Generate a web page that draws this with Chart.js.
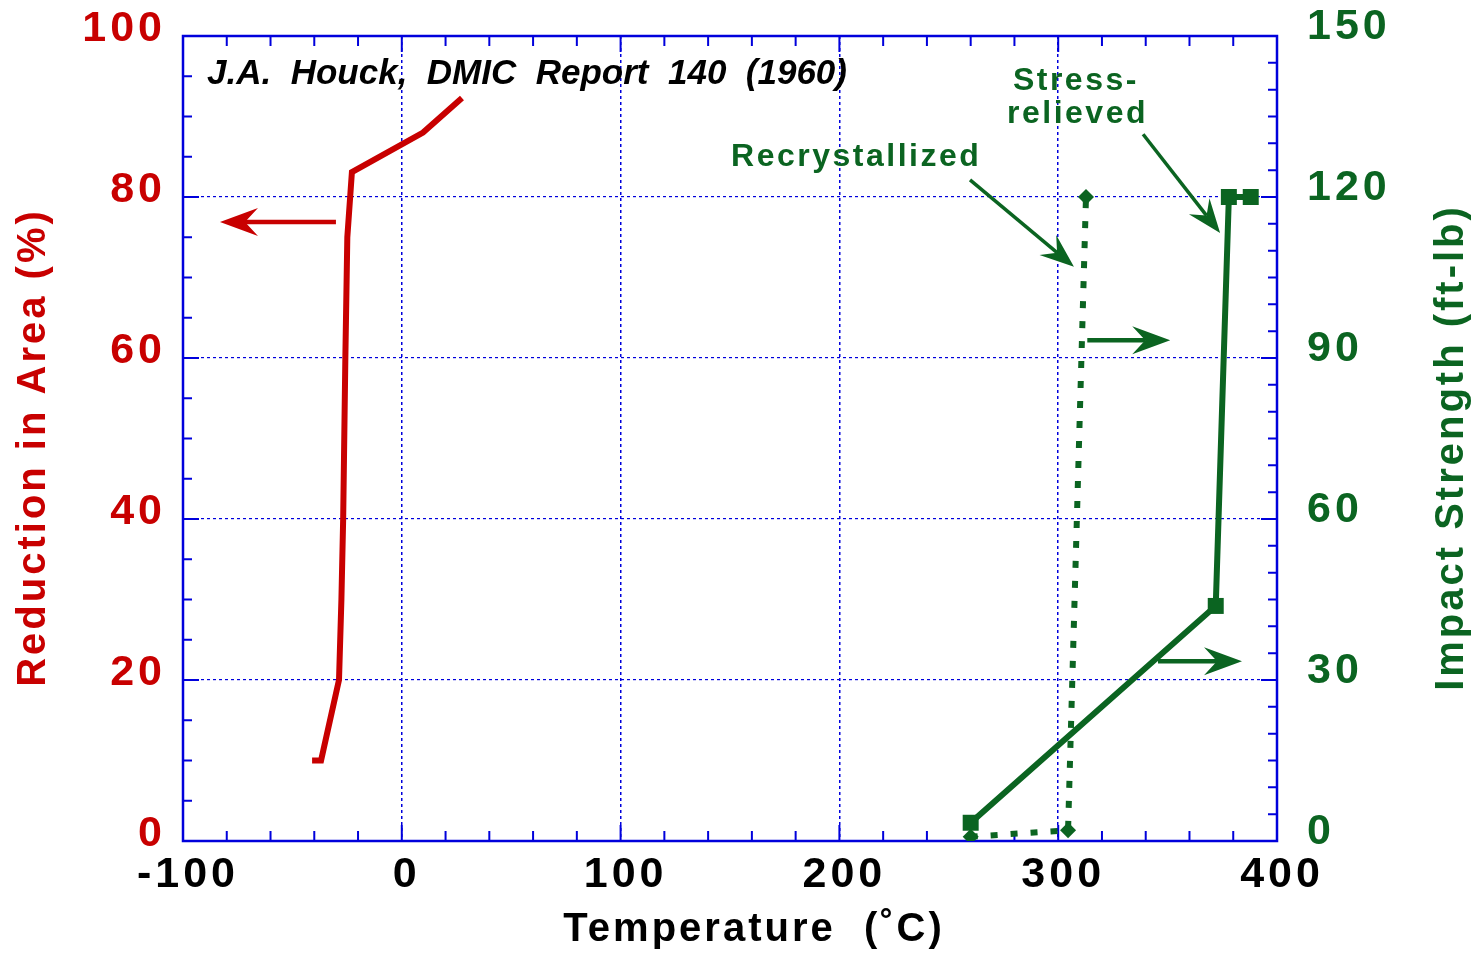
<!DOCTYPE html>
<html>
<head>
<meta charset="utf-8">
<script src="https://cdn.jsdelivr.net/npm/chart.js@4.4.1/dist/chart.umd.min.js"></script>
<style>
    html, body { margin: 0; padding: 0; background: #fff; }
    #wrap { width: 1480px; height: 953px; }
</style>
</head>
<body>
<div id="wrap"><canvas id="chart" width="1480" height="953"></canvas></div>
<script>
// Reduction in area (left axis, %)
const raTemp  = [-41, -36.9, -28.7, -27.6, -26.8, -25.8, -24.9, -22.8, 9.7, 27.5];
const raValue = [10, 10, 20, 30, 40, 60, 75, 83.1, 88, 92.3];

// Impact strength, stress-relieved (right axis, ft-lb)
const srTemp   = [260, 372, 378, 388];
const srImpact = [3.4, 43.8, 120, 120];

// Impact strength, recrystallized (right axis, ft-lb)
const rxTemp   = [260, 304.5, 312.7];
const rxImpact = [0.8, 2, 120];

// tick labels
const tempTicks   = [-100, 0, 100, 200, 300, 400];
const areaTicks   = [0, 20, 40, 60, 80, 100];
const impactTicks = [0, 30, 60, 90, 120, 150];

const RED = "#c80000";
const GREEN = "#0b6421";
const BLUE = "#0000dc";
const FONT = "'Liberation Sans', Arial, Helvetica, sans-serif";

function pts(xs, ys) {
    return xs.map((x, i) => ({ x: x, y: ys[i] }));
}

/* ---------------------------
   ANNOTATIONS (data coords)
---------------------------- */
const notes = [
    { text: "J.A.  Houck,  DMIC  Report  140  (1960)", x: -89, y: 94, axis: "yL",
      color: "#000", font: "italic bold 35px " + FONT, spacing: "0px" },
    { text: "Recrystallized", x: 150.5, y: 125.8, axis: "yR",
      color: GREEN, font: "bold 32px " + FONT, spacing: "2.5px" },
    { text: "Stress-", x: 279.3, y: 139.9, axis: "yR",
      color: GREEN, font: "bold 32px " + FONT, spacing: "2.5px" },
    { text: "relieved", x: 276.6, y: 133.8, axis: "yR",
      color: GREEN, font: "bold 32px " + FONT, spacing: "2.5px" }
];

const arrows = [
    { from: [-30.1, 76.9], to: [-83.1, 76.9], axis: "yL", color: RED, lw: 4.5, head: 38, half: 14, notch: 25 },
    { from: [313.3, 93.3], to: [351.2, 93.3], axis: "yR", color: GREEN, lw: 4.5, head: 38, half: 14, notch: 25 },
    { from: [345.6, 33.5], to: [384.0, 33.5], axis: "yR", color: GREEN, lw: 4.5, head: 38, half: 14, notch: 25 },
    { from: [259.7, 123.2], to: [307.2, 107.0], axis: "yR", color: GREEN, lw: 3.5, head: 34, half: 13, notch: 22 },
    { from: [338.8, 131.7], to: [374.0, 113.3], axis: "yR", color: GREEN, lw: 3.5, head: 34, half: 13, notch: 22 }
];

function drawArrow(ctx, x1, y1, x2, y2, a) {
    const ang = Math.atan2(y2 - y1, x2 - x1);
    const ux = Math.cos(ang), uy = Math.sin(ang);
    const px = -uy, py = ux;
    const nx = x2 - ux * a.notch, ny = y2 - uy * a.notch;
    ctx.strokeStyle = a.color;
    ctx.fillStyle = a.color;
    ctx.lineWidth = a.lw;
    ctx.beginPath();
    ctx.moveTo(x1, y1);
    ctx.lineTo(nx, ny);
    ctx.stroke();
    ctx.beginPath();
    ctx.moveTo(x2, y2);
    ctx.lineTo(x2 - ux * a.head + px * a.half, y2 - uy * a.head + py * a.half);
    ctx.lineTo(nx, ny);
    ctx.lineTo(x2 - ux * a.head - px * a.half, y2 - uy * a.head - py * a.half);
    ctx.closePath();
    ctx.fill();
}

// no label-overflow padding: the plot box is fixed
function noPad(s) {
    s.paddingTop = 0;
    s.paddingBottom = 0;
    s.paddingLeft = 0;
    s.paddingRight = 0;
}

/* ---------------------------
   FRAME + INWARD TICKS
---------------------------- */
const frameTicks = {
    id: "frameTicks",
    beforeUpdate(chart) {
        chart.ctx.letterSpacing = "4px";
    },
    beforeDraw(chart) {
        chart.ctx.letterSpacing = "4px";
    },
    beforeDatasetsDraw(chart) {
        const { ctx, chartArea: a, scales } = chart;
        const x = scales.x, yL = scales.yL, yR = scales.yR;
        ctx.save();
        ctx.strokeStyle = BLUE;
        ctx.lineWidth = 2;
        ctx.beginPath();
        for (let v = -100; v <= 400; v += 20) {
            const p = x.getPixelForValue(v);
            const len = v % 100 === 0 ? 16 : 10;
            ctx.moveTo(p, a.bottom); ctx.lineTo(p, a.bottom - len);
            ctx.moveTo(p, a.top); ctx.lineTo(p, a.top + len);
        }
        for (let v = 0; v <= 100; v += 5) {
            const p = yL.getPixelForValue(v);
            const len = v % 20 === 0 ? 16 : 9;
            ctx.moveTo(a.left, p); ctx.lineTo(a.left + len, p);
        }
        for (let v = 0; v <= 150; v += 5) {
            const p = yR.getPixelForValue(v);
            const len = v % 30 === 0 ? 16 : 9;
            ctx.moveTo(a.right, p); ctx.lineTo(a.right - len, p);
        }
        ctx.stroke();
        ctx.lineWidth = 2.5;
        ctx.strokeRect(a.left, a.top, a.right - a.left, a.bottom - a.top);
        ctx.restore();
    },
    afterDraw(chart) {
        const { ctx, chartArea: a, scales } = chart;
        ctx.save();

        // annotation arrows
        arrows.forEach(ar => {
            const ys = scales[ar.axis];
            drawArrow(ctx,
                scales.x.getPixelForValue(ar.from[0]), ys.getPixelForValue(ar.from[1]),
                scales.x.getPixelForValue(ar.to[0]), ys.getPixelForValue(ar.to[1]), ar);
        });

        // annotation text
        ctx.textAlign = "left";
        ctx.textBaseline = "alphabetic";
        notes.forEach(n => {
            ctx.font = n.font;
            ctx.letterSpacing = n.spacing;
            ctx.fillStyle = n.color;
            ctx.fillText(n.text, scales.x.getPixelForValue(n.x), scales[n.axis].getPixelForValue(n.y));
        });

        // axis titles
        ctx.font = "bold 40px " + FONT;
        ctx.letterSpacing = "3px";
        ctx.textAlign = "center";
        ctx.textBaseline = "middle";
        const midY = (a.top + a.bottom) / 2 + 9;

        ctx.fillStyle = RED;
        ctx.save();
        ctx.translate(34, midY);
        ctx.rotate(-Math.PI / 2);
        ctx.fillText("Reduction in Area (%)", 0, 0);
        ctx.restore();

        ctx.fillStyle = GREEN;
        ctx.save();
        ctx.translate(chart.width - 28, midY);
        ctx.rotate(-Math.PI / 2);
        ctx.fillText("Impact Strength (ft-lb)", 0, 0);
        ctx.restore();

        ctx.fillStyle = "#000";
        ctx.fillText("Temperature  (˚C)", scales.x.getPixelForValue(161), 930);

        ctx.restore();
    }
};

/* ---------------------------
   CHART
---------------------------- */
new Chart(document.getElementById("chart"), {
    type: "scatter",
    data: {
        datasets: [
            {
                label: "Reduction in Area",
                data: pts(raTemp, raValue),
                yAxisID: "yL",
                showLine: true,
                borderColor: RED,
                borderWidth: 6,
                borderCapStyle: "butt",
                borderJoinStyle: "miter",
                pointRadius: 0
            },
            {
                label: "Stress-relieved",
                data: pts(srTemp, srImpact),
                yAxisID: "yR",
                showLine: true,
                borderColor: GREEN,
                backgroundColor: GREEN,
                borderWidth: 6,
                borderJoinStyle: "miter",
                pointStyle: "rect",
                pointRadius: 11.3,
                pointBorderWidth: 0
            },
            {
                label: "Recrystallized",
                data: pts(rxTemp, rxImpact),
                yAxisID: "yR",
                showLine: true,
                borderColor: GREEN,
                backgroundColor: GREEN,
                borderWidth: 6,
                borderDash: [7, 13],
                borderCapStyle: "butt",
                pointStyle: "rectRot",
                pointRadius: 8,
                pointBorderWidth: 0
            }
        ]
    },
    options: {
        responsive: false,
        animation: false,
        layout: { padding: { top: 36, left: 0, right: 0, bottom: 0 } },
        plugins: {
            legend: { display: false },
            tooltip: { enabled: false }
        },
        scales: {
            x: {
                type: "linear",
                position: "bottom",
                min: -100,
                max: 400,
                afterBuildTicks: s => { s.ticks = tempTicks.map(v => ({ value: v })); },
                afterFit: s => { s.height = 112; noPad(s); },
                grid: { color: BLUE, lineWidth: 1.5, drawTicks: false },
                border: { display: false, dash: [3, 3] },
                ticks: {
                    color: "#000",
                    padding: 8,
                    labelOffset: 5,
                    maxRotation: 0,
                    font: { family: FONT, size: 43, weight: "bold" }
                }
            },
            yL: {
                type: "linear",
                position: "left",
                min: 0,
                max: 100,
                afterBuildTicks: s => { s.ticks = areaTicks.map(v => ({ value: v })); },
                afterFit: s => { s.width = 183; noPad(s); },
                grid: { color: BLUE, lineWidth: 1.2, drawTicks: false },
                border: { display: false, dash: [3, 3] },
                ticks: {
                    color: RED,
                    padding: 17,
                    labelOffset: -7,
                    font: { family: FONT, size: 43, weight: "bold" }
                }
            },
            yR: {
                type: "linear",
                position: "right",
                min: 0,
                max: 150,
                afterBuildTicks: s => { s.ticks = impactTicks.map(v => ({ value: v })); },
                afterFit: s => { s.width = 203; noPad(s); },
                grid: { drawOnChartArea: false, drawTicks: false },
                border: { display: false },
                ticks: {
                    color: GREEN,
                    padding: 30,
                    labelOffset: -9,
                    font: { family: FONT, size: 43, weight: "bold" }
                }
            }
        }
    },
    plugins: [frameTicks]
});
</script>
</body>
</html>
